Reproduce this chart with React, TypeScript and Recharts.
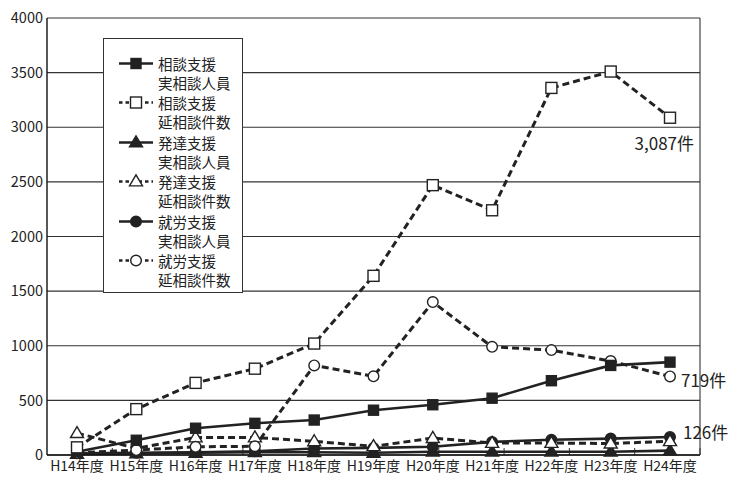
import React from 'react';
import { LineChart, Line, XAxis, YAxis, CartesianGrid, Legend, ReferenceLine } from 'recharts';

const CATEGORIES = ['H14年度', 'H15年度', 'H16年度', 'H17年度', 'H18年度', 'H19年度', 'H20年度', 'H21年度', 'H22年度', 'H23年度', 'H24年度'];
const SODAN_JITSU = [30, 135, 245, 290, 320, 410, 460, 520, 680, 820, 850];
const SODAN_NOBE = [70, 420, 660, 790, 1020, 1640, 2470, 2240, 3360, 3510, 3087];
const HATTATSU_JITSU = [10, 15, 20, 25, 25, 20, 30, 30, 30, 30, 40];
const HATTATSU_NOBE = [200, 60, 160, 160, 125, 80, 155, 110, 110, 105, 126];
const SHURO_JITSU = [15, 20, 25, 35, 60, 65, 75, 120, 140, 150, 165];
const SHURO_NOBE = [20, 45, 75, 80, 820, 720, 1400, 990, 960, 860, 719];
const Y_TICKS = [0, 500, 1000, 1500, 2000, 2500, 3000, 3500, 4000];
const MINOR_TICKS = [1, 2, 3, 4, 5, 6, 7, 8, 9, 10];
const LEGEND_NAMES: [string, string][] = [
  ['相談支援', '実相談人員'],
  ['相談支援', '延相談件数'],
  ['発達支援', '実相談人員'],
  ['発達支援', '延相談件数'],
  ['就労支援', '実相談人員'],
  ['就労支援', '延相談件数'],
];

type Shape = 'square' | 'triangle' | 'circle';
interface SeriesDef {
  key: string;
  values: number[];
  shape: Shape;
  filled: boolean;
  dashed: boolean;
  legend: [string, string];
  annotate?: 'below' | 'right' | 'above';
}

const SERIES: SeriesDef[] = [
  { key: 's1', values: SODAN_JITSU, shape: 'square', filled: true, dashed: false, legend: LEGEND_NAMES[0] },
  { key: 's2', values: SODAN_NOBE, shape: 'square', filled: false, dashed: true, legend: LEGEND_NAMES[1], annotate: 'below' },
  { key: 's3', values: HATTATSU_JITSU, shape: 'triangle', filled: true, dashed: false, legend: LEGEND_NAMES[2] },
  { key: 's4', values: HATTATSU_NOBE, shape: 'triangle', filled: false, dashed: true, legend: LEGEND_NAMES[3], annotate: 'above' },
  { key: 's5', values: SHURO_JITSU, shape: 'circle', filled: true, dashed: false, legend: LEGEND_NAMES[4] },
  { key: 's6', values: SHURO_NOBE, shape: 'circle', filled: false, dashed: true, legend: LEGEND_NAMES[5], annotate: 'right' },
];

const DRAW_ORDER = ['s3', 's5', 's4', 's6', 's1', 's2'];

const data = CATEGORIES.map((name, i) => {
  const row: Record<string, string | number> = { name };
  SERIES.forEach((s) => {
    row[s.key] = s.values[i];
  });
  return row;
});

const FONT = '"Noto Sans CJK JP", "Noto Sans", sans-serif';
const INK = '#222';
const DASH = '7 4';
// length of the small in-plot tick marks along the category axis, in value units (~7px)
const MINOR_TICK_LEN = 64;

function Marker({ cx, cy, shape, filled }: { cx?: number; cy?: number; shape: Shape; filled: boolean }) {
  if (cx == null || cy == null || isNaN(cx) || isNaN(cy)) return null;
  const fill = filled ? INK : '#fff';
  if (shape === 'square') {
    const s = filled ? 10 : 11;
    return <rect x={cx - s / 2} y={cy - s / 2} width={s} height={s} fill={fill} stroke={INK} strokeWidth={1.4} />;
  }
  if (shape === 'triangle') {
    const w = 13;
    const h = 11;
    return (
      <polygon
        points={`${cx},${cy - h * 0.6} ${cx + w / 2},${cy + h * 0.4} ${cx - w / 2},${cy + h * 0.4}`}
        fill={fill}
        stroke={INK}
        strokeWidth={1.4}
        strokeLinejoin="miter"
      />
    );
  }
  return <circle cx={cx} cy={cy} r={5.3} fill={fill} stroke={INK} strokeWidth={1.4} />;
}

function LegendBox() {
  return (
    <div
      style={{
        width: 140,
        height: 255,
        boxSizing: 'border-box',
        border: '1.2px solid #333',
        background: '#fff',
        paddingTop: 15,
        fontFamily: FONT,
        fontSize: 14.5,
        color: INK,
      }}
    >
      {SERIES.map((s) => (
        <div key={s.key} style={{ display: 'flex', height: 38, marginBottom: 1.4 }}>
          <svg width={54} height={19} style={{ flex: 'none' }}>
            <line
              x1={15}
              y1={9.5}
              x2={49}
              y2={9.5}
              stroke={INK}
              strokeWidth={2.4}
              strokeDasharray={s.dashed ? '3.5 3' : undefined}
            />
            <Marker cx={32} cy={9.5} shape={s.shape} filled={s.filled} />
          </svg>
          <div style={{ lineHeight: '19px', whiteSpace: 'nowrap' }}>
            <div>{s.legend[0]}</div>
            <div>{s.legend[1]}</div>
          </div>
        </div>
      ))}
    </div>
  );
}

function makeLabel(s: SeriesDef) {
  const last = s.values.length - 1;
  return (props: any) => {
    const { x, y, index, value } = props;
    if (index !== last || !s.annotate) return <g key={`l${index}`} />;
    const text = `${Number(value).toLocaleString('en-US')}件`;
    let tx = x;
    let ty = y;
    let anchor: 'start' | 'end' = 'start';
    if (s.annotate === 'below') {
      tx = x + 24;
      ty = y + 25;
      anchor = 'end';
    } else if (s.annotate === 'right') {
      tx = x + 11;
      ty = y + 3.5;
    } else {
      tx = x + 13;
      ty = y - 9.5;
    }
    return (
      <text key={`l${index}`} x={tx} y={ty} textAnchor={anchor} dominantBaseline="central" fontFamily={FONT} fontSize={17} fill={INK}>
        {text}
      </text>
    );
  };
}

export default function App() {
  return (
    <div style={{ width: 732, height: 490, marginTop: -8, background: '#fff' }}>
      <LineChart width={732} height={490} data={data} margin={{ top: 18, right: 39, bottom: 6, left: 0 }}>
        <CartesianGrid horizontal vertical={false} stroke="#333" strokeWidth={1.1} />
        <XAxis
          dataKey="name"
          padding={{ left: 30, right: 30 }}
          height={29}
          axisLine={{ stroke: '#111', strokeWidth: 1.6 }}
          tickLine={false}
          tickSize={4}
          tickMargin={2}
          interval={0}
          tick={{ fontFamily: FONT, fontSize: 14, fill: INK }}
        />
        <XAxis xAxisId="minor" type="number" domain={[0, CATEGORIES.length]} hide />
        <YAxis
          domain={[0, 4000]}
          ticks={Y_TICKS}
          width={39}
          tickLine={false}
          tickSize={2}
          tickMargin={2}
          axisLine={{ stroke: '#111', strokeWidth: 1.4 }}
          tick={{ fontFamily: FONT, fontSize: 14.5, fill: INK }}
        />
        <YAxis
          yAxisId="right"
          orientation="right"
          domain={[0, 4000]}
          width={1}
          tick={false}
          tickLine={false}
          axisLine={{ stroke: '#333', strokeWidth: 1.1 }}
        />
        {MINOR_TICKS.map((t) => (
          <ReferenceLine
            key={`m${t}`}
            xAxisId="minor"
            segment={[
              { x: t, y: 0 },
              { x: t, y: MINOR_TICK_LEN },
            ]}
            stroke="#333"
            strokeWidth={1}
          />
        ))}
        <Legend
          layout="horizontal"
          verticalAlign="middle"
          align="center"
          content={() => <LegendBox />}
          wrapperStyle={{ position: 'absolute', left: 95, top: 38, width: 140, height: 255 }}
        />
        {DRAW_ORDER.map((k) => {
          const s = SERIES.find((x) => x.key === k)!;
          return (
            <Line
              key={s.key}
              dataKey={s.key}
              type="linear"
              stroke={INK}
              strokeWidth={s.dashed ? 3 : 2.6}
              strokeDasharray={s.dashed ? DASH : undefined}
              isAnimationActive={false}
              dot={(p: any) => <Marker key={`${s.key}-${p.index}`} cx={p.cx} cy={p.cy} shape={s.shape} filled={s.filled} />}
              activeDot={false}
              label={makeLabel(s)}
            />
          );
        })}
      </LineChart>
    </div>
  );
}
